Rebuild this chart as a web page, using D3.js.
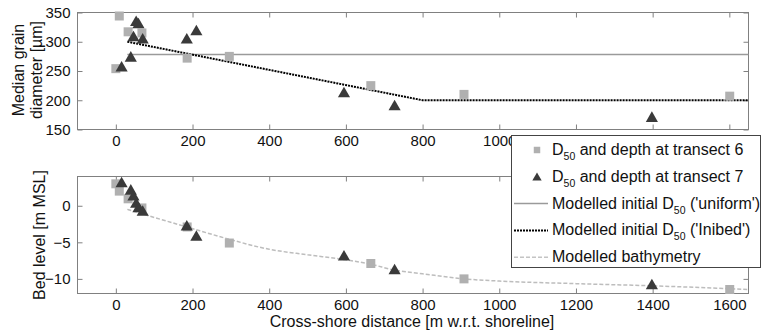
<!DOCTYPE html>
<html>
<head>
<meta charset="utf-8">
<script src="https://cdn.jsdelivr.net/npm/d3@7"></script>
<style>
  body { margin: 0; background: #fff; }
  svg { display: block; font-family: "Liberation Sans", Arial, sans-serif; }
</style>
</head>
<body>
<svg id="chart" width="762" height="335"></svg>
<script>
// Tick values
const xTicks = [0, 200, 400, 600, 800, 1000, 1200, 1400, 1600];
const d50Ticks = [150, 200, 250, 300, 350];
const bedTicks = [-10, -5, 0];

// Measured D50 [µm] and bed level [m MSL], transect 6
const t6Dist = [0, 9, 32, 68, 186, 296, 665, 908, 1601];
const t6D50  = [254, 344, 317, 315, 272, 275, 225, 210, 207];
const t6Bed  = [3.0, 2.0, 0.95, -0.3, -2.9, -5.1, -7.9, -10.0, -11.45];

// Measured D50 [µm] and bed level [m MSL], transect 7
const t7Dist = [15, 39, 46, 53, 59, 70, 185, 210, 595, 727, 1398];
const t7D50  = [255, 272, 307, 333, 329, 303, 303, 317, 211, 189, 169];
const t7Bed  = [3.0, 2.0, 1.2, 0.2, -0.4, -0.9, -2.9, -4.3, -7.0, -8.9, -10.95];

// Modelled initial D50, 'uniform'
const uniformDist = [30, 1650];
const uniformD50  = [278, 278];

// Modelled initial D50, 'Inibed'
const inibedDist = [30, 800, 1650];
const inibedD50  = [300, 200, 200];

// Modelled bathymetry
const bathyDist = [30, 100, 185, 290, 400, 500, 600, 665, 727, 800, 908, 1000, 1200, 1400, 1650];
const bathyBed  = [-0.5, -1.6, -2.9, -4.5, -5.95, -6.7, -7.4, -8.0, -8.8, -9.3, -10.0, -10.3, -10.65, -10.95, -11.45];

const svg = d3.select("#chart");
const FONT = 15;
const axisGrey = "#808080";
const squareFill = "#b0b0b0";
const triFill = "#3a3a3a";
const fmt = d3.format("d");

const L = 77.5, R = 748.5;
const x = d3.scaleLinear().domain([-100, 1650]).range([L, R]);

// The legend sits over the right part of the upper panel's distance labels
const legendLeft = 511.5;

const panels = [
  { top: 12.5, bottom: 129.5, domain: [150, 350], ticks: d50Ticks, underLegend: true },
  { top: 176.5, bottom: 293.5, domain: [-12, 4], ticks: bedTicks, underLegend: false }
];
panels.forEach(p => { p.y = d3.scaleLinear().domain(p.domain).range([p.bottom, p.top]); });

function styleAxis(g, labels) {
  g.select(".domain").remove();
  g.selectAll(".tick line").attr("stroke", axisGrey);
  g.selectAll(".tick text").attr("fill", "#111").style("font-size", FONT + "px")
    .style("font-family", '"Liberation Sans", Arial, sans-serif');
  if (!labels) g.selectAll(".tick text").remove();
}

function drawAxes(p) {
  const y = p.y;
  svg.append("rect").attr("x", L).attr("y", p.top).attr("width", R - L).attr("height", p.bottom - p.top)
    .attr("fill", "none").attr("stroke", axisGrey).attr("stroke-width", 1);
  svg.append("g").attr("transform", `translate(0,${p.bottom})`)
    .call(d3.axisBottom(x).tickValues(xTicks).tickFormat(fmt).tickSizeInner(-5).tickSizeOuter(0).tickPadding(6))
    .call(g => styleAxis(g, true))
    .call(g => {
      if (p.underLegend) {
        g.selectAll(".tick").filter(d => x(d) - 12 > legendLeft).select("text").remove();
      }
    });
  svg.append("g").attr("transform", `translate(0,${p.top})`)
    .call(d3.axisTop(x).tickValues(xTicks).tickSizeInner(-5).tickSizeOuter(0))
    .call(g => styleAxis(g, false));
  svg.append("g").attr("transform", `translate(${L},0)`)
    .call(d3.axisLeft(y).tickValues(p.ticks).tickFormat(fmt).tickSizeInner(-5).tickSizeOuter(0).tickPadding(7))
    .call(g => styleAxis(g, true));
  svg.append("g").attr("transform", `translate(${R},0)`)
    .call(d3.axisRight(y).tickValues(p.ticks).tickSizeInner(-5).tickSizeOuter(0))
    .call(g => styleAxis(g, false));
}

function linePath(p, xs, ys, curve) {
  return d3.line().x((d, i) => x(xs[i])).y((d, i) => p.y(ys[i])).curve(curve || d3.curveLinear)(xs);
}

const sqSym = d3.symbol().type(d3.symbolSquare).size(81);
const triSym = d3.symbol().type(d3.symbolTriangle).size(64);

function drawMarkers(p, xs, ys, sym, fill) {
  svg.append("g").selectAll("path").data(xs).join("path")
    .attr("transform", (d, i) => `translate(${x(d)},${p.y(ys[i])})`)
    .attr("d", sym).attr("fill", fill);
}

// Upper panel: grain size
const pTop = panels[0];
drawAxes(pTop);
svg.append("path").attr("d", linePath(pTop, uniformDist, uniformD50))
  .attr("fill", "none").attr("stroke", "#9a9a9a").attr("stroke-width", 1.5);
svg.append("path").attr("d", linePath(pTop, inibedDist, inibedD50))
  .attr("fill", "none").attr("stroke", "#000").attr("stroke-width", 2).attr("stroke-dasharray", "2,1");
drawMarkers(pTop, t6Dist, t6D50, sqSym, squareFill);
drawMarkers(pTop, t7Dist, t7D50, triSym, triFill);

// Lower panel: bed level
const pBot = panels[1];
drawAxes(pBot);
svg.append("path").attr("d", linePath(pBot, bathyDist, bathyBed, d3.curveMonotoneX))
  .attr("fill", "none").attr("stroke", "#bdbdbd").attr("stroke-width", 1.5).attr("stroke-dasharray", "4,2");
drawMarkers(pBot, t6Dist, t6Bed, sqSym, squareFill);
drawMarkers(pBot, t7Dist, t7Bed, triSym, triFill);

// Axis titles
function vText(cx, cy, str) {
  return svg.append("text").attr("transform", `translate(${cx},${cy}) rotate(-90)`)
    .attr("text-anchor", "middle").style("font-size", "16px").attr("fill", "#111").text(str);
}
vText(24, 70, "Median grain");
vText(42, 70, "diameter [µm]");
vText(45, 235, "Bed level [m MSL]");
svg.append("text").attr("x", 412).attr("y", 327).attr("text-anchor", "middle")
  .style("font-size", "16px").attr("fill", "#111").text("Cross-shore distance [m w.r.t. shoreline]");

// Legend
const lg = svg.append("g");
lg.append("rect").attr("x", legendLeft).attr("y", 135.5).attr("width", 249).attr("height", 132)
  .attr("fill", "#fff").attr("stroke", "#444").attr("stroke-width", 1);
const rows = [
  { kind: "sq", parts: ["D", "50", " and depth at transect 6"] },
  { kind: "tri", parts: ["D", "50", " and depth at transect 7"] },
  { kind: "uniform", parts: ["Modelled initial D", "50", " ('uniform')"] },
  { kind: "inibed", parts: ["Modelled initial D", "50", " ('Inibed')"] },
  { kind: "bathy", parts: ["Modelled bathymetry"] }
];
const baseY = 155, stepY = 26.8, textX = 552, symX = 537;
rows.forEach((r, i) => {
  const by = baseY + i * stepY;
  const cy = by - 5;
  if (r.kind === "sq") {
    lg.append("path").attr("transform", `translate(${symX},${cy})`)
      .attr("d", d3.symbol().type(d3.symbolSquare).size(42)).attr("fill", squareFill);
  } else if (r.kind === "tri") {
    lg.append("path").attr("transform", `translate(${symX},${cy + 1})`)
      .attr("d", d3.symbol().type(d3.symbolTriangle).size(38)).attr("fill", triFill);
  } else {
    const ln = lg.append("line").attr("x1", 514).attr("x2", 548).attr("y1", cy).attr("y2", cy).attr("fill", "none");
    if (r.kind === "uniform") ln.attr("stroke", "#9a9a9a").attr("stroke-width", 1.5);
    if (r.kind === "inibed") ln.attr("stroke", "#000").attr("stroke-width", 2).attr("stroke-dasharray", "2,1");
    if (r.kind === "bathy") ln.attr("stroke", "#c4c4c4").attr("stroke-width", 1.5).attr("stroke-dasharray", "4,2");
  }
  const t = lg.append("text").attr("x", textX).attr("y", by).style("font-size", "16px").attr("fill", "#111");
  t.append("tspan").text(r.parts[0]);
  if (r.parts.length > 1) {
    t.append("tspan").attr("dy", 5).style("font-size", "10.5px").text(r.parts[1]);
    t.append("tspan").attr("dy", -5).text(r.parts[2]);
  }
});
</script>
</body>
</html>
